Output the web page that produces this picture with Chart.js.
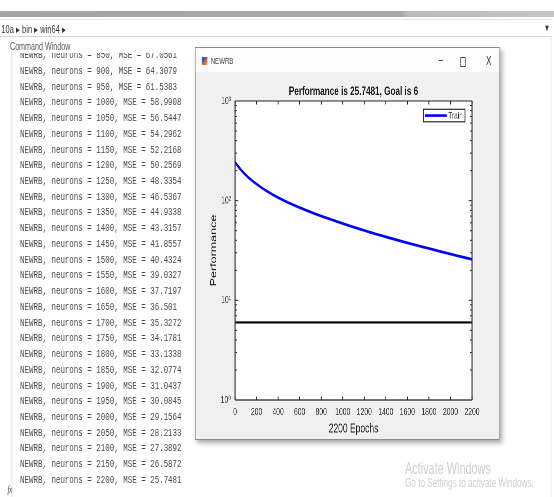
<!DOCTYPE html>
<html><head><meta charset="utf-8">
<script src="https://cdn.jsdelivr.net/npm/chart.js@4.4.1/dist/chart.umd.min.js"></script>
<style>
html,body{margin:0;padding:0;background:#fff;overflow:hidden;width:554px;height:497px;}
#wrap{position:absolute;left:0;top:0;width:815px;height:497px;transform:scaleX(0.68);transform-origin:0 0;font-family:"Liberation Sans",Arial,sans-serif;overflow:hidden;}
.abs{position:absolute;}
#strip{left:0;top:11px;height:6px;width:815px;background:linear-gradient(to right,#a4a4a4 0,#a8a8a8 590px,#bcbcbc 600px,#c4c4c4 815px);}
#addr{left:0;top:19px;height:18px;width:812px;border-top:1px solid #e2e2e2;border-bottom:1px solid #d6d6d6;font-size:11px;line-height:18px;color:#333;padding-left:2px;box-sizing:border-box;}
#dd{left:800px;top:19px;font-size:9px;line-height:18px;color:#333;}
#cwhead{left:14.7px;top:40px;font-size:10.5px;line-height:12px;color:#5a5a5a;}
#cwline{left:17px;top:51px;width:1px;height:446px;background:#d4d4d4;}
#rline{left:810px;top:38px;width:1px;height:459px;background:#e4e4e4;}
#console{left:29.4px;top:53px;width:260px;height:435px;overflow:hidden;}
#consoleInner{position:absolute;left:0;top:-4.9px;font-family:"Liberation Mono","DejaVu Sans Mono",monospace;font-size:11px;line-height:15.74px;color:#4a4a4a;white-space:pre;}
#fx{left:11px;top:484px;font-size:10px;font-style:italic;color:#444;font-family:"Liberation Serif",serif;}
#fig{left:286.8px;top:47px;width:448.5px;height:393px;background:#f0f0f0;border:1px solid #8c8c8c;box-sizing:border-box;box-shadow:3px 3px 6px rgba(0,0,0,0.35);}
#tbar{left:0;top:0;width:100%;height:24px;background:#fcfcfc;}
#icon{left:9px;top:9px;width:8px;height:8px;background:linear-gradient(135deg,#2f62c8 0,#2f62c8 40%,#e8612c 55%,#f3a23a 100%);}
#ftitle{left:22px;top:7px;font-size:9px;line-height:12px;color:#444;}
#minb{left:357px;top:4px;font-size:12px;line-height:16px;color:#333;}
#maxb{left:389px;top:9px;width:6px;height:8px;border:1px solid #444;}
#clsb{left:427px;top:5px;font-size:12px;line-height:16px;color:#333;}
#c{position:absolute;left:288px;top:72px;width:446px;height:367px;}
#act1{left:595.6px;top:460px;font-size:16px;line-height:18px;color:#cfcfcf;}
#act2{left:595.6px;top:476px;font-size:12px;line-height:14px;color:#cfcfcf;}
</style></head>
<body>
<div id="wrap">
  <div id="strip" class="abs"></div>
  <div id="addr" class="abs">10a ▸ bin ▸ win64 ▸</div>
  <div id="dd" class="abs">▼</div>
  <div id="cwhead" class="abs">Command Window</div>
  <div id="cwline" class="abs"></div>
  <div id="rline" class="abs"></div>
  <div id="console" class="abs"><div id="consoleInner"></div></div>
  <div id="fx" class="abs">fx</div>
  <div id="act1" class="abs">Activate Windows</div>
  <div id="act2" class="abs">Go to Settings to activate Windows.</div>
  <div id="fig" class="abs">
    <div id="tbar" class="abs">
      <div id="icon" class="abs"></div>
      <div id="ftitle" class="abs">NEWRB</div>
      <div id="minb" class="abs">–</div>
      <div id="maxb" class="abs"></div>
      <div id="clsb" class="abs">X</div>
    </div>
  </div>
  <canvas id="c" width="446" height="367"></canvas>
</div>
<script>
// ---- data ----
const epochs = [0,50,100,150,200,250,300,350,400,450,500,550,600,650,700,750,800,850,900,950,1000,1050,1100,1150,1200,1250,1300,1350,1400,1450,1500,1550,1600,1650,1700,1750,1800,1850,1900,1950,2000,2050,2100,2150,2200];
const trainPerf = [243,207,181,161.6,146.6,134.2,123.8,115.0,107.4,100.8,95.0,89.9,85.2,80.9,77.0,73.4,70.1,67.0561,64.3079,61.5383,58.9908,56.5447,54.2962,52.2168,50.2569,48.3354,46.5367,44.9338,43.3157,41.8557,40.4324,39.0327,37.7197,36.501,35.3272,34.1781,33.1338,32.0774,31.0437,30.0845,29.1564,28.2133,27.3892,26.5872,25.7481];
const goal = 6;
const xTickValues = [0,200,400,600,800,1000,1200,1400,1600,1800,2000,2200];
const yTickValues = [1,10,100,1000];
const consoleStart = 850;
const SUP = {0:'\u2070',1:'\u00B9',2:'\u00B2',3:'\u00B3'};

// ---- console text ----
const lines = [];
epochs.forEach((e,i)=>{ if(e>=consoleStart) lines.push('NEWRB, neurons = '+e+', MSE = '+trainPerf[i]); });
document.getElementById('consoleInner').textContent = lines.join('\n');

const FONT = "'Liberation Sans', Arial, 'DejaVu Sans', sans-serif";
const AX = '#262626';

const matlabAxes = {
  id:'matlabAxes',
  beforeDraw(chart){
    const {ctx, chartArea:a} = chart;
    ctx.save(); ctx.fillStyle='#ffffff'; ctx.fillRect(a.left,a.top,a.width,a.height); ctx.restore();
  },
  afterDraw(chart){
    const {ctx, chartArea:a, scales:{x,y}} = chart;
    ctx.save();
    ctx.strokeStyle = AX;
    const seg=(x1,y1,x2,y2,w)=>{ctx.lineWidth=w;ctx.beginPath();ctx.moveTo(x1,y1);ctx.lineTo(x2,y2);ctx.stroke();};
    xTickValues.forEach(v=>{
      const px = x.getPixelForValue(v);
      seg(px,a.bottom,px,a.bottom-3.5,1.3);
      seg(px,a.top,px,a.top+3.5,1.3);
    });
    for(let k=0;k<yTickValues.length;k++){
      const d=yTickValues[k];
      const maxM = (k===yTickValues.length-1)?1:9;
      for(let m=1;m<=maxM;m++){
        const py = y.getPixelForValue(d*m);
        const len = m===1?5:3;
        seg(a.left,py,a.left+len,py,1);
        seg(a.right,py,a.right-len,py,1);
      }
    }
    seg(a.left,a.top,a.right,a.top,1);
    seg(a.left,a.bottom,a.right,a.bottom,1.2);
    seg(a.left,a.top,a.left,a.bottom,1.5);
    seg(a.right,a.top,a.right,a.bottom,1.5);
    // legend
    const ds = chart.data.datasets[0];
    const bw=61.3, bh=12.5, bx=a.right-10.3-bw, by=a.top+8.3;
    ctx.fillStyle='#ffffff'; ctx.fillRect(bx,by,bw,bh);
    ctx.strokeStyle=AX; ctx.lineWidth=1.2; ctx.strokeRect(bx,by,bw,bh);
    ctx.strokeStyle=ds.borderColor; seg(bx+2.5,by+bh/2,bx+34.4,by+bh/2,ds.borderWidth);
    ctx.fillStyle=AX; ctx.font='9.5px '+FONT; ctx.textBaseline='middle'; ctx.textAlign='left';
    ctx.fillText(ds.label,bx+36.8,by+bh/2+0.5);
    ctx.restore();
  }
};

new Chart(document.getElementById('c'), {
  type:'line',
  data:{datasets:[
    {label:'Train', data:epochs.map((e,i)=>({x:e,y:trainPerf[i]})), borderColor:'#0000ff', backgroundColor:'#0000ff', borderWidth:2.7, pointRadius:0, fill:false, tension:0.3},
    {label:'Goal', data:[{x:epochs[0],y:goal},{x:epochs[epochs.length-1],y:goal}], borderColor:'#000000', backgroundColor:'#000000', borderWidth:2.2, pointRadius:0, fill:false}
  ]},
  options:{
    responsive:false, animation:false, devicePixelRatio:2,
    layout:{padding:{left:0,right:39.9,top:0,bottom:0}},
    plugins:{
      legend:{display:false},
      tooltip:{enabled:false},
      title:{display:true, fullSize:false, text:'Performance is '+trainPerf[trainPerf.length-1]+', Goal is '+goal, color:'#1a1a1a', font:{family:FONT,size:12,weight:'bold'}, padding:{top:12.5,bottom:2.1}}
    },
    scales:{
      x:{type:'linear', min:0, max:2200,
         afterBuildTicks:s=>{s.ticks=xTickValues.map(v=>({value:v}));},
         ticks:{autoSkip:false,maxRotation:0,minRotation:0,padding:6,color:'#333',font:{family:FONT,size:10},callback:v=>String(v)},
         grid:{display:false,drawTicks:false}, border:{display:false},
         title:{display:true,text:epochs[epochs.length-1]+' Epochs',color:'#1a1a1a',font:{family:FONT,size:12.5},padding:{top:0,bottom:2.5}},
         afterFit:s=>{s.height=39;}},
      y:{type:'logarithmic', min:1, max:1000,
         afterBuildTicks:s=>{s.ticks=yTickValues.map(v=>({value:v}));},
         ticks:{padding:6,color:'#333',font:{family:FONT,size:10},callback:v=>'10'+SUP[Math.round(Math.log10(v))]},
         grid:{display:false,drawTicks:false}, border:{display:false},
         title:{display:true,text:'Performance',color:'#1a1a1a',font:{family:FONT,size:12.5},padding:{top:19.2,bottom:0}},
         afterFit:s=>{s.width=57.6;}}
    }
  },
  plugins:[matlabAxes]
});
</script>
</body></html>
